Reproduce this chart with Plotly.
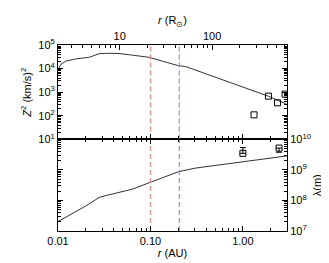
import numpy as np
import plotly.graph_objects as go

# ---- data ----
r_z2 = [0.0100, 0.0108, 0.0122, 0.0156, 0.0218, 0.0278, 0.0357, 0.0458, 0.0637,
        0.096, 0.134, 0.202, 0.239, 1.89, 2.86, 3.0]
logz2 = [3.96, 4.19, 4.32, 4.41, 4.48, 4.63, 4.65, 4.64, 4.57,
         4.48, 4.32, 4.12, 4.09, 2.83, 2.52, 2.48]
z2 = [10 ** v for v in logz2]

r_z2_obs = [1.32, 1.89, 2.37, 2.86]
z2_obs = [110, 680, 355, 830]

r_lam = [0.0100, 0.020, 0.0279, 0.0329, 0.0637, 0.100, 0.145, 0.200, 0.306, 0.98, 2.86, 3.0]
loglam = [7.31, 7.82, 8.10, 8.16, 8.37, 8.60, 8.80, 8.94, 9.06, 9.27, 9.45, 9.46]
lam = [10 ** v for v in loglam]

r_lam_obs = [1.0, 2.46]
lam_obs = [3.5e9, 5.2e9]
lam_err_plus = [1.9e9, 0.0]
lam_err_minus = [0.0, 1.4e9]

r_red = 0.10
r_blue = 0.205
AU_IN_RSUN = 215.03
r_range_au = [0.01, 3.0]
z2_range = [10, 1e5]
lam_range = [1e7, 1e10]

z2_tickvals = [1e1, 1e2, 1e3, 1e4, 1e5]
z2_ticktext = ["10<sup>1</sup>", "10<sup>2</sup>", "10<sup>3</sup>", "10<sup>4</sup>", "10<sup>5</sup>"]
lam_tickvals = [1e7, 1e8, 1e9, 1e10]
lam_ticktext = ["10<sup>7</sup>", "10<sup>8</sup>", "10<sup>9</sup>", "10<sup>10</sup>"]
au_tickvals = [0.01, 0.1, 1.0]
au_ticktext = ["0.01", "0.10", "1.00"]
rsun_tickvals = [10, 100]
rsun_ticktext = ["10", "100"]

FONT = "Liberation Sans, Arial, sans-serif"
black = "#000000"
line_col = "#333333"
red_col = "#ff7a7a"
blue_col = "#7a7aff"


def minor_vals(lo_exp, hi_exp):
    return [m * 10.0 ** e for e in range(lo_exp, hi_exp + 1) for m in range(2, 10)]


fig = go.Figure()

# top panel
fig.add_trace(go.Scatter(x=r_z2, y=z2, mode="lines", line=dict(color=line_col, width=1),
                         xaxis="x2", yaxis="y2", showlegend=False))
fig.add_trace(go.Scatter(x=r_z2_obs, y=z2_obs, mode="markers",
                         marker=dict(symbol="square-open", size=6, color=black, line=dict(width=1)),
                         xaxis="x2", yaxis="y2", showlegend=False))
fig.add_trace(go.Scatter(x=[r_red, r_red], y=z2_range, mode="lines",
                         line=dict(color=red_col, width=1, dash="5px,3px"),
                         xaxis="x2", yaxis="y2", showlegend=False))
fig.add_trace(go.Scatter(x=[r_blue, r_blue], y=z2_range, mode="lines",
                         line=dict(color=blue_col, width=1, dash="5px,3px"),
                         xaxis="x2", yaxis="y2", showlegend=False))

# bottom panel
fig.add_trace(go.Scatter(x=r_lam, y=lam, mode="lines", line=dict(color=line_col, width=1),
                         xaxis="x", yaxis="y", showlegend=False))
fig.add_trace(go.Scatter(x=r_lam_obs, y=lam_obs, mode="markers",
                         marker=dict(symbol="square-open", size=6, color=black, line=dict(width=1)),
                         error_y=dict(type="data", array=lam_err_plus, arrayminus=lam_err_minus,
                                      symmetric=False, color=black, thickness=1, width=3),
                         xaxis="x", yaxis="y", showlegend=False))
fig.add_trace(go.Scatter(x=[r_red, r_red], y=lam_range, mode="lines",
                         line=dict(color=red_col, width=1, dash="5px,3px"),
                         xaxis="x", yaxis="y", showlegend=False))
fig.add_trace(go.Scatter(x=[r_blue, r_blue], y=lam_range, mode="lines",
                         line=dict(color=blue_col, width=1, dash="5px,3px"),
                         xaxis="x", yaxis="y", showlegend=False))

# invisible anchor traces so every (overlay) axis gets drawn
for xa, ya in [("x3", "y2"), ("x", "y3"), ("x4", "y"), ("x5", "y2"), ("x6", "y2"),
               ("x2", "y4"), ("x", "y5"), ("x", "y6")]:
    fig.add_trace(go.Scatter(x=[None], y=[None], mode="markers", marker=dict(opacity=0),
                             xaxis=xa, yaxis=ya, showlegend=False, hoverinfo="skip"))

split = 97 / 197
xr = [np.log10(r_range_au[0]), np.log10(r_range_au[1])]
xr_sun = [np.log10(r_range_au[0] * AU_IN_RSUN), np.log10(r_range_au[1] * AU_IN_RSUN)]


def major(**kw):
    d = dict(type="log", showline=True, linecolor=black, linewidth=1, ticks="inside",
             tickcolor=black, ticklen=5, tickwidth=1, showgrid=False, zeroline=False,
             layer="above traces",
             tickmode="array", tickfont=dict(family=FONT, size=11, color=black))
    d.update(kw)
    return d


def minor(**kw):
    d = dict(type="log", showline=False, ticks="inside", tickcolor=black, ticklen=3,
             tickwidth=1, showgrid=False, zeroline=False, showticklabels=False,
             layer="above traces", tickmode="array")
    d.update(kw)
    return d


au_minor = minor_vals(-2, 0)
rsun_minor = minor_vals(0, 2)
z2_minor = minor_vals(1, 4)
lam_minor = minor_vals(7, 9)

fig.update_layout(
    width=329, height=263,
    margin=dict(l=50, r=50, t=26, b=40),
    paper_bgcolor="white", plot_bgcolor="rgba(0,0,0,0)",
    font=dict(family=FONT, size=11, color=black),
    # major axes
    xaxis=major(range=xr, anchor="y", domain=[0, 1], mirror="ticks",
                tickvals=au_tickvals, ticktext=au_ticktext,
                title=dict(text="<i>r</i> (AU)", standoff=3, font=dict(size=11))),
    xaxis2=major(range=xr, anchor="y2", domain=[0, 1],
                 tickvals=au_tickvals, showticklabels=False),
    xaxis3=major(range=xr_sun, anchor="y2", overlaying="x2", side="top",
                 tickvals=rsun_tickvals, ticktext=rsun_ticktext,
                 title=dict(text="<i>r</i> (R<sub>⊙</sub>)", standoff=2, font=dict(size=11))),
    yaxis=major(range=[7, 10], domain=[0, split], anchor="x",
                tickvals=lam_tickvals, showticklabels=False),
    yaxis3=major(range=[7, 10], overlaying="y", side="right", anchor="x",
                 tickvals=lam_tickvals, ticktext=lam_ticktext,
                 title=dict(text="λ(m)", standoff=3, font=dict(size=11))),
    yaxis2=major(range=[1, 5], domain=[split, 1], anchor="x2", mirror="ticks",
                 tickvals=z2_tickvals, ticktext=z2_ticktext,
                 title=dict(text="<i>Z</i><sup>2</sup> (km/s)<sup>2</sup>", standoff=4,
                            font=dict(size=11))),
    # minor-tick axes
    xaxis4=minor(range=xr, anchor="y", overlaying="x", mirror="ticks", tickvals=au_minor),
    xaxis5=minor(range=xr, anchor="y2", overlaying="x2", tickvals=au_minor),
    xaxis6=minor(range=xr_sun, anchor="y2", overlaying="x2", side="top", tickvals=rsun_minor),
    yaxis4=minor(range=[1, 5], anchor="x2", overlaying="y2", mirror="ticks", tickvals=z2_minor),
    yaxis5=minor(range=[7, 10], anchor="x", overlaying="y", side="left", tickvals=lam_minor),
    yaxis6=minor(range=[7, 10], anchor="x", overlaying="y", side="right", tickvals=lam_minor),
)

fig.write_html("out.html")
